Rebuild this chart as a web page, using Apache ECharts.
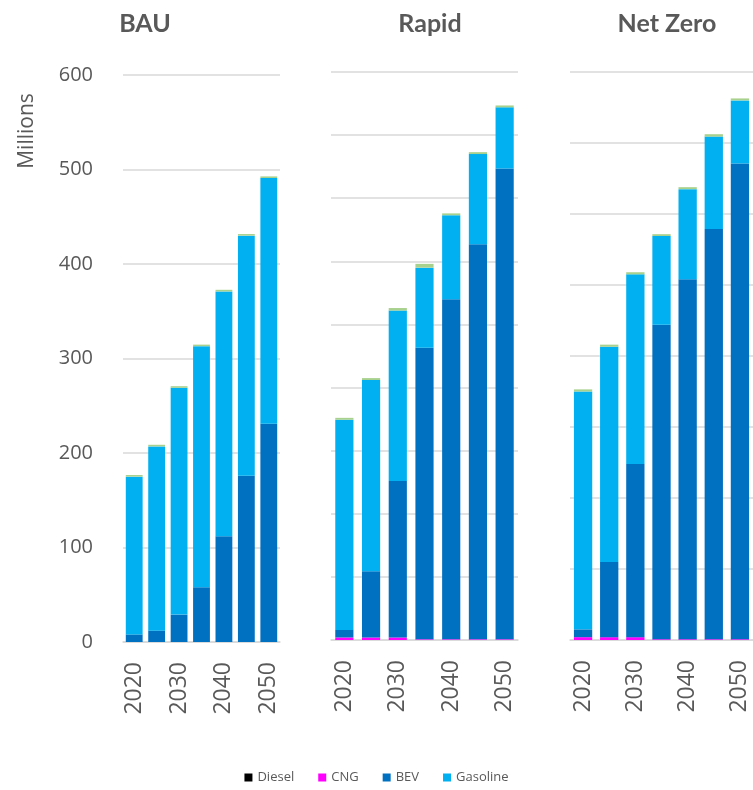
<!DOCTYPE html>
<html>
<head>
<meta charset="utf-8">
<script src="https://cdn.jsdelivr.net/npm/echarts@6/dist/echarts.min.js"></script>
<style>
  html, body { margin: 0; padding: 0; background: #fff; }
  #main { width: 753px; height: 790px; }
</style>
</head>
<body>
<div id="main"></div>
<script>
var years = ['2020', '2025', '2030', '2035', '2040', '2045', '2050'];

// BAU (millions)
var bauDiesel   = [0, 0, 0, 0, 0, 0, 0];
var bauCNG      = [0, 0, 0, 0, 0, 0, 0];
var bauBEV      = [8, 12, 29, 58, 112, 176, 231];
var bauGasoline = [167, 195, 240, 255, 259, 254, 260];
var bauOther    = [1.7, 1.7, 1.7, 1.7, 1.7, 1.7, 1.7];

// Rapid
var rapDiesel   = [0, 0, 0, 0, 0, 0, 0];
var rapCNG      = [2, 2, 2, 0.5, 0.5, 0.5, 0.5];
var rapBEV      = [6, 52.5, 124, 231, 269.5, 313, 373];
var rapGasoline = [166.5, 151.5, 135, 63.5, 66.5, 71.5, 48.5];
var rapOther    = [1.5, 1.5, 2, 3, 1.5, 1.5, 1.5];

// Net Zero
var nzDiesel    = [0, 0, 0, 0, 0, 0, 0];
var nzCNG       = [2, 2, 2, 0.5, 0.5, 0.5, 0.5];
var nzBEV       = [5.5, 53, 122, 221.5, 253.5, 289, 335];
var nzGasoline  = [167.5, 151.5, 133.5, 62.5, 63.5, 65, 44.5];
var nzOther     = [1.5, 1.5, 1.5, 1.3, 1.4, 1.7, 1.4];

var colors = {
  Diesel: '#000000',
  CNG: '#FF00FF',
  BEV: '#0070C0',
  Gasoline: '#00B0F0',
  Other: '#A9D18E'
};

var panels = [
  { name: 'BAU', titleX: 140, left: 123, width: 157, top: 75, bottom: 148, max: 600, interval: 100, barWidth: '75%',
    data: { Diesel: bauDiesel, CNG: bauCNG, BEV: bauBEV, Gasoline: bauGasoline, Other: bauOther } },
  { name: 'Rapid', titleX: 425, left: 331, width: 187, top: 72, bottom: 150, max: 450, interval: 50, barWidth: '68%',
    data: { Diesel: rapDiesel, CNG: rapCNG, BEV: rapBEV, Gasoline: rapGasoline, Other: rapOther } },
  { name: 'Net Zero', titleX: 662, left: 570, width: 185, top: 72, bottom: 150, max: 400, interval: 50, barWidth: '70%',
    data: { Diesel: nzDiesel, CNG: nzCNG, BEV: nzBEV, Gasoline: nzGasoline, Other: nzOther } }
];

var seriesNames = ['Diesel', 'CNG', 'BEV', 'Gasoline', 'Other'];
var textColor = '#595959';

var grids = [], xAxes = [], yAxes = [], series = [], titles = [];

panels.forEach(function (p, i) {
  grids.push({ left: p.left, width: p.width, top: p.top, bottom: p.bottom });
  xAxes.push({
    type: 'category',
    gridIndex: i,
    data: years,
    axisTick: { show: false },
    axisLine: { show: true, lineStyle: { color: '#D9D9D9', width: 1.5 } },
    axisLabel: {
      interval: 1,
      rotate: 90,
      margin: 20,
      fontSize: 23,
      color: textColor,
      fontFamily: 'Open Sans'
    }
  });
  yAxes.push({
    type: 'value',
    gridIndex: i,
    min: 0,
    max: p.max,
    interval: p.interval,
    axisLine: { show: false },
    axisTick: { show: false },
    axisLabel: {
      show: i === 0,
      fontSize: 20,
      color: textColor,
      margin: 30,
      fontFamily: 'Open Sans'
    },
    splitLine: { lineStyle: { color: '#D9D9D9', width: 1.5 } }
  });
  seriesNames.forEach(function (s) {
    series.push({
      name: s,
      type: 'bar',
      stack: 'p' + i,
      xAxisIndex: i,
      yAxisIndex: i,
      barWidth: p.barWidth,
      data: p.data[s],
      itemStyle: { color: colors[s] },
      emphasis: { disabled: true }
    });
  });
  titles.push({
    text: p.name,
    left: p.titleX,
    textAlign: 'center',
    top: 6,
    textStyle: { fontSize: 25, fontWeight: 'bold', color: textColor, fontFamily: 'Lato' }
  });
});

var myChart = echarts.init(document.getElementById('main'));
var option = {
  animation: false,
  title: titles,
  graphic: [{
    type: 'text',
    x: 27,
    y: 131,
    rotation: Math.PI / 2,
    style: {
      text: 'Millions',
      fontSize: 21,
      fill: textColor,
      fontFamily: 'Open Sans',
      align: 'center',
      verticalAlign: 'middle'
    }
  }],
  legend: {
    data: ['Diesel', 'CNG', 'BEV', 'Gasoline'],
    bottom: 1,
    left: 'center',
    itemWidth: 8,
    itemHeight: 8,
    itemGap: 24,
    icon: 'rect',
    textStyle: { fontSize: 13, color: textColor, fontFamily: 'Open Sans' }
  },
  grid: grids,
  xAxis: xAxes,
  yAxis: yAxes,
  series: series
};
myChart.setOption(option);
</script>
</body>
</html>
